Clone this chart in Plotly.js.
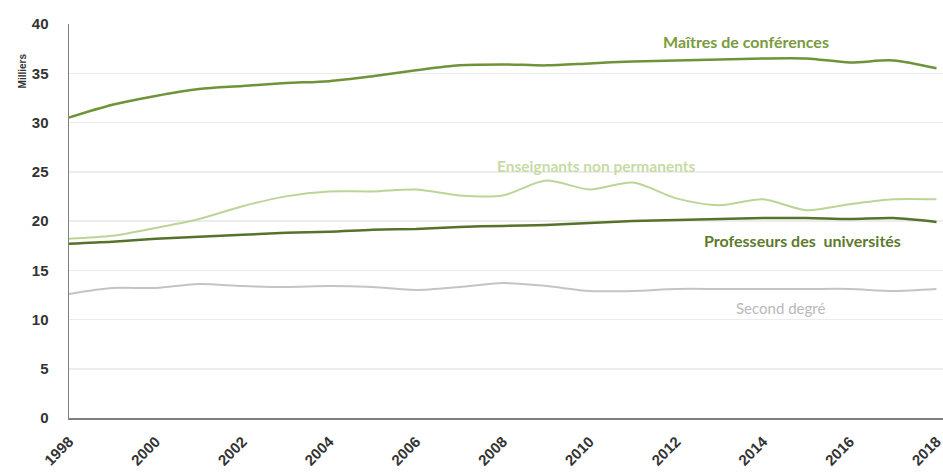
<!DOCTYPE html>
<html>
<head>
<meta charset="utf-8">
<script src="https://cdn.plot.ly/plotly-3.0.1.min.js"></script>
<style>html,body{margin:0;padding:0;background:#fff;}#chart{width:943px;height:473px;}</style>
</head>
<body>
<div id="chart"></div>
<script>
const years = [1998,1999,2000,2001,2002,2003,2004,2005,2006,2007,2008,2009,2010,2011,2012,2013,2014,2015,2016,2017,2018];
const maitresConf = [30.5,31.8,32.7,33.4,33.7,34.0,34.2,34.7,35.3,35.8,35.9,35.8,36.0,36.2,36.3,36.4,36.5,36.5,36.1,36.3,35.5];
const ensNonPerm = [18.2,18.5,19.3,20.2,21.5,22.5,23.0,23.0,23.2,22.6,22.6,24.1,23.2,23.9,22.3,21.6,22.2,21.1,21.7,22.2,22.2];
const profUniv = [17.7,17.9,18.2,18.4,18.6,18.8,18.9,19.1,19.2,19.4,19.5,19.6,19.8,20.0,20.1,20.2,20.3,20.3,20.2,20.3,19.9];
const secondDegre = [12.6,13.2,13.2,13.6,13.4,13.3,13.4,13.3,13.0,13.3,13.7,13.4,12.9,12.9,13.1,13.1,13.1,13.1,13.1,12.9,13.1];
const seriesNames = ["Maîtres de conférences","Enseignants non permanents","Professeurs des  universités","Second degré"];
const xTicks = [1998,2000,2002,2004,2006,2008,2010,2012,2014,2016,2018];
const yTicks = [0,5,10,15,20,25,30,35,40];

const mk = (y, color, w, name) => ({x: years, y: y, type: 'scatter', mode: 'lines', name: name,
  line: {color: color, width: w, shape: 'spline', smoothing: 0.8}, hoverinfo: 'x+y+name'});

const data = [
  mk(secondDegre, '#c4c4c4', 2, seriesNames[3]),
  mk(ensNonPerm, '#bcd596', 2, seriesNames[1]),
  mk(profUniv, '#56722b', 2.5, seriesNames[2]),
  mk(maitresConf, '#6f9338', 2.5, seriesNames[0])
];

const layout = {
  width: 943, height: 473,
  margin: {l: 69, r: 0, t: 24, b: 55},
  paper_bgcolor: '#fff', plot_bgcolor: '#fff',
  showlegend: false,
  xaxis: {
    range: [1998, 2018.15], tickvals: xTicks, ticktext: xTicks.map(String),
    tickangle: -45, showgrid: false, zeroline: false,
    showline: true, linecolor: '#7f7f7f', linewidth: 2,
    ticks: 'outside', ticklen: 7, tickcolor: 'rgba(0,0,0,0)', ticklabeloverflow: 'allow',
    tickfont: {family: 'Liberation Sans, Arial, sans-serif', size: 15, color: '#333', weight: 'bold'}
  },
  yaxis: {
    range: [0, 40], tickvals: yTicks, ticktext: yTicks.map(String),
    showgrid: true, gridcolor: '#ececec', gridwidth: 1.5, zeroline: false,
    showline: true, linecolor: '#7f7f7f', linewidth: 1.5,
    ticks: 'outside', ticklen: 16, tickcolor: 'rgba(0,0,0,0)',
    tickfont: {family: 'Liberation Sans, Arial, sans-serif', size: 15, color: '#333', weight: 'bold'}
  },
  annotations: [
    {text: 'Milliers', xref: 'paper', yref: 'paper', x: -0.062, y: 0.93, textangle: -90,
     showarrow: false, font: {family: 'Liberation Sans, Arial, sans-serif', size: 10, color: '#333', weight: 'bold'}},
    {text: seriesNames[0], xref: 'x', yref: 'y', x: 2013.6, y: 38.2, showarrow: false,
     font: {family: 'Lato, Open Sans, sans-serif', size: 16, color: '#7a9a40', weight: 'bold'}},
    {text: seriesNames[1], xref: 'x', yref: 'y', x: 2010.15, y: 25.6, showarrow: false,
     font: {family: 'Lato, Open Sans, sans-serif', size: 15.5, color: '#c7dba6', weight: 'bold'}},
    {text: seriesNames[2], xref: 'x', yref: 'y', x: 2014.9, y: 18.0, showarrow: false,
     font: {family: 'Lato, Open Sans, sans-serif', size: 16, color: '#5d7a2c', weight: 'bold'}},
    {text: seriesNames[3], xref: 'x', yref: 'y', x: 2014.4, y: 11.2, showarrow: false,
     font: {family: 'Lato, Open Sans, sans-serif', size: 15, color: '#b9b9b9'}}
  ]
};

Plotly.newPlot('chart', data, layout, {displayModeBar: false, staticPlot: true});
</script>
</body>
</html>
